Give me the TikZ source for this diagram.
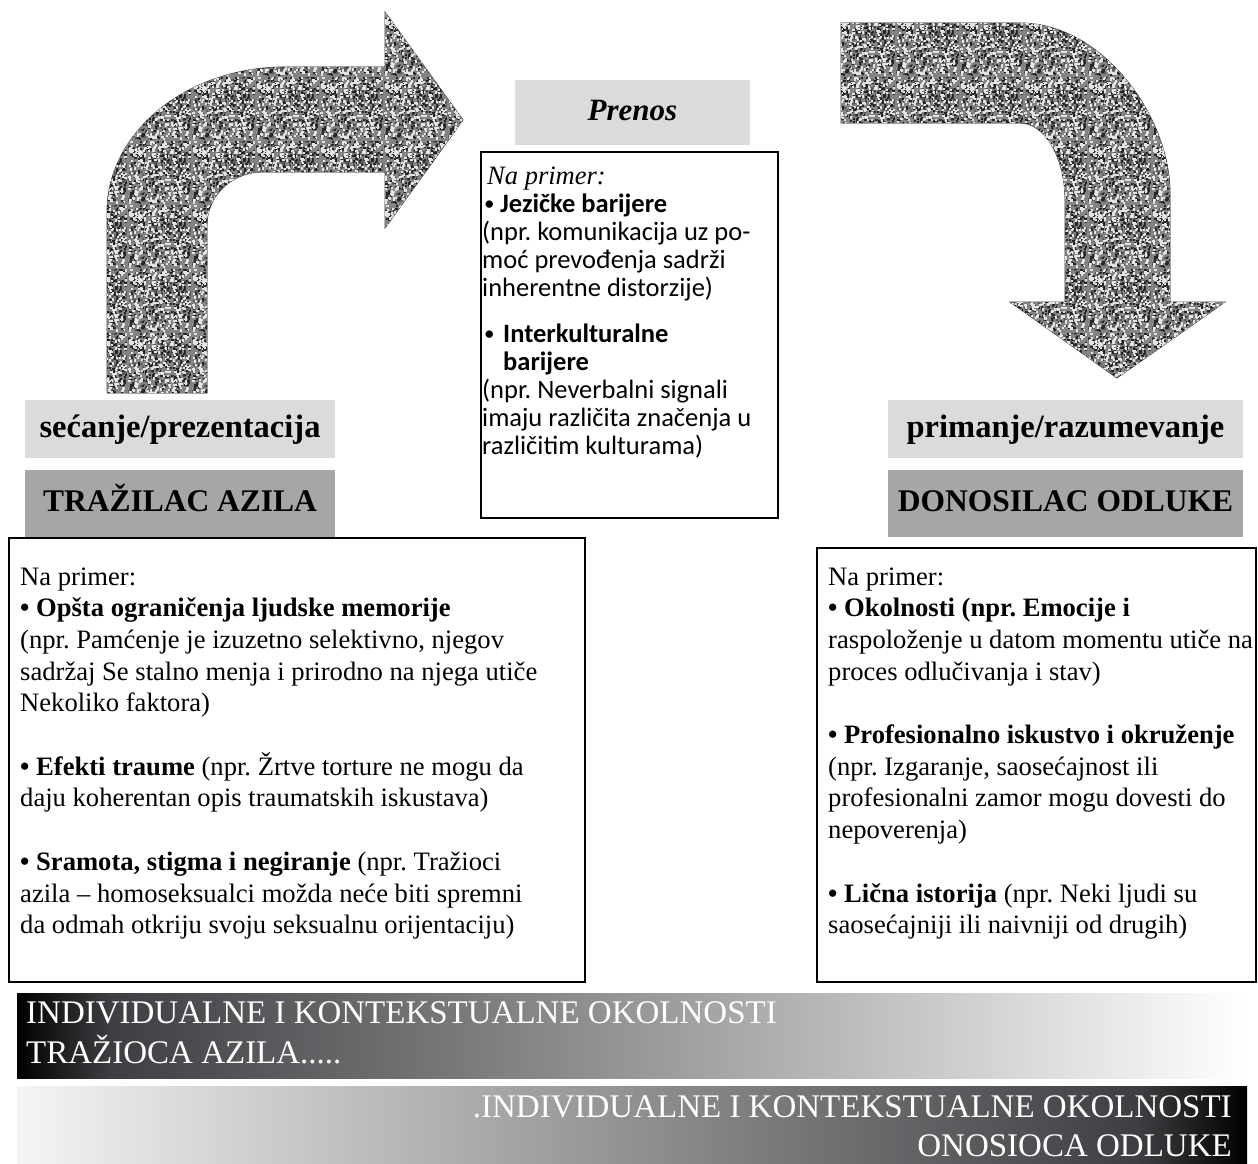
\documentclass[tikz,border=0pt]{standalone}
\usepackage{fontspec}
\setmainfont{Liberation Serif}
\newfontfamily\calibrisans{Carlito}
\usetikzlibrary{patterns}
\frenchspacing

\definecolor{taglight}{RGB}{219,219,221}
\definecolor{tagdark}{RGB}{166,166,168}
\definecolor{grainbase}{RGB}{132,132,132}
\definecolor{graindark}{RGB}{38,38,38}
\definecolor{grainmid}{RGB}{90,90,90}
\definecolor{grainlight}{RGB}{228,228,228}
\definecolor{barmidA}{RGB}{62,62,66}

% speckled stone-like fill tile for the bent arrows
\pgfmathsetseed{4711}
\newcommand\grainlayer[3]{% colour, count, size
  \pgfsetfillcolor{#1}%
  \foreach \k in {1,...,#2} {%
    \pgfmathsetmacro\gx{(64-#3)*rnd}\pgfmathsetmacro\gy{(64-#3)*rnd}%
    \pgfpathrectangle{\pgfpoint{\gx pt}{\gy pt}}{\pgfpoint{#3pt}{#3pt}}%
    \pgfusepath{fill}%
  }%
}
\pgfdeclarepatterninherentlycolored{grainnoise}
  {\pgfpoint{-1pt}{-1pt}}{\pgfpoint{65pt}{65pt}}{\pgfpoint{64pt}{64pt}}
  {%
    \pgfsetfillcolor{grainbase}%
    \pgfpathrectangle{\pgfpoint{-1pt}{-1pt}}{\pgfpoint{66pt}{66pt}}%
    \pgfusepath{fill}%
    \grainlayer{grainmid}{160}{2.2}%
    \grainlayer{graindark}{240}{2.2}%
    \grainlayer{grainlight}{300}{2.2}%
    \grainlayer{graindark}{60}{1.4}%
  }

\tikzset{
  body/.style={anchor=base west, inner sep=0pt, font=\fontsize{26.6}{32}\selectfont},
  bodysans/.style={anchor=base west, inner sep=0pt, font=\calibrisans\fontsize{26.5}{29}\selectfont},
  sansdot/.style={anchor=base west, inner sep=0pt, font=\calibrisans\fontsize{21}{29}\selectfont},
  panel/.style={draw=black, line width=2.6pt},
  tag/.style={inner sep=0pt, font=\bfseries\fontsize{32.5}{36}\selectfont, text height=23pt, text depth=7pt},
  captag/.style={tag, font=\bfseries\fontsize{31.5}{34}\selectfont},
  bartext/.style={inner sep=0pt, text=white, font=\fontsize{33}{36}\selectfont},
  grainfill/.style={fill=grainbase, postaction={pattern=grainnoise}},
  grainedge/.style={draw=black!80, line width=0.8pt},
}

\begin{document}
\begin{tikzpicture}[x=1pt,y=-1pt]
\useasboundingbox (0,0) rectangle (1258,1164);

% ---- curved arrow turning right (upper left)
\path[grainfill, grainedge] (107,393) -- (107,212) .. controls (107,132) and (187,67) .. (285,67)
        -- (385,67) -- (385,12) -- (463,120) -- (385,228) -- (385,172) -- (262,172)
        .. controls (232,172) and (207,196) .. (207,225) -- (207,393) -- cycle;

% ---- curved arrow turning down (upper right)
\path[grainfill, grainedge] (841,23) -- (1020,23) .. controls (1103,23) and (1170,117) .. (1170,193)
        -- (1170,302) -- (1225,302) -- (1117,378) -- (1010,302) -- (1065,302)
        -- (1065,200) .. controls (1065,158) and (1045,123) .. (1020,123) -- (841,123) -- cycle;

% ---- headings
\node[inner sep=0pt, fill=taglight, minimum width=235pt, minimum height=65pt,
      font=\bfseries\itshape\fontsize{31}{34}\selectfont, text height=22pt, text depth=6pt]
      (prenos) at (632.5,112.5) {Prenos};
\node[tag, fill=taglight, minimum width=310pt, minimum height=58pt] (recall) at (180,429) {sećanje/prezentacija};
\node[captag, fill=tagdark, minimum width=310pt, minimum height=67pt] (seeker) at (180,503.5) {TRAŽILAC AZILA};
\node[tag, fill=taglight, minimum width=355pt, minimum height=58pt] (receive) at (1065.5,429) {primanje/razumevanje};
\node[captag, fill=tagdark, minimum width=355pt, minimum height=67pt] (decider) at (1065.5,503.5) {DONOSILAC ODLUKE};

% ---- middle panel: transmission
\draw[panel, line width=2pt] (481,152) rectangle (778,518);
\node[body, font=\itshape\fontsize{26.5}{30}\selectfont] (m0) at (487,184) {Na primer:};
\node[sansdot] (m1b) at (484,210) {•};
\node[bodysans] (m1) at (500,212) {\textbf{Jezičke barijere}};
\node[bodysans] (m2) at (482,240) {(npr. komunikacija uz po-};
\node[bodysans] (m3) at (482,268) {moć prevođenja sadrži};
\node[bodysans] (m4) at (482,296) {inherentne distorzije)};
\node[sansdot] (m5b) at (484,340) {•};
\node[bodysans] (m5) at (503,342) {\textbf{Interkulturalne}};
\node[bodysans] (m6) at (503,370) {\textbf{barijere}};
\node[bodysans] (m7) at (482,398) {(npr. Neverbalni signali};
\node[bodysans] (m8) at (482,426) {imaju različita značenja u};
\node[bodysans] (m9) at (482,454) {različitim kulturama)};

% ---- left panel: asylum seeker
\draw[panel] (9,538) rectangle (585,982);
\node[body] (a0)  at (20,585.0) {Na primer:};
\node[body] (a1)  at (20,616.7) {\textbf{• Opšta ograničenja ljudske memorije}};
\node[body] (a2)  at (20,648.4) {(npr. Pamćenje je izuzetno selektivno, njegov};
\node[body] (a3)  at (20,680.1) {sadržaj Se stalno menja i prirodno na njega utiče};
\node[body] (a4)  at (20,711.8) {Nekoliko faktora)};
\node[body] (a6)  at (20,775.2) {\textbf{• Efekti traume} (npr. Žrtve torture ne mogu da};
\node[body] (a7)  at (20,806.9) {daju koherentan opis traumatskih iskustava)};
\node[body] (a9)  at (20,870.3) {\textbf{• Sramota, stigma i negiranje} (npr. Tražioci};
\node[body] (a10) at (20,902.0) {azila – homoseksualci možda neće biti spremni};
\node[body] (a11) at (20,933.7) {da odmah otkriju svoju seksualnu orijentaciju)};

% ---- right panel: decision maker
\draw[panel] (817,548) rectangle (1256,982);
\node[body] (d0)  at (828,585.0) {Na primer:};
\node[body] (d1)  at (828,616.7) {\textbf{• Okolnosti (npr. Emocije i}};
\node[body] (d2)  at (828,648.4) {raspoloženje u datom momentu utiče na};
\node[body] (d3)  at (828,680.1) {proces odlučivanja i stav)};
\node[body] (d5)  at (828,743.5) {\textbf{• Profesionalno iskustvo i okruženje}};
\node[body] (d6)  at (828,775.2) {(npr. Izgaranje, saosećajnost ili};
\node[body] (d7)  at (828,806.9) {profesionalni zamor mogu dovesti do};
\node[body] (d8)  at (828,838.6) {nepoverenja)};
\node[body] (d10) at (828,902.0) {\textbf{• Lična istorija} (npr. Neki ljudi su};
\node[body] (d11) at (828,933.7) {saosećajniji ili naivniji od drugih)};

% ---- gradient bands
\shade[left color=black, right color=barmidA] (17,993) rectangle (110,1078);
\shade[left color=barmidA, right color=white] (109.5,993) rectangle (1247,1078);
\shade[left color=white!96!black, right color=barmidA] (17,1086) rectangle (1140.5,1164);
\shade[left color=barmidA, right color=black] (1140,1086) rectangle (1247,1164);

\node[bartext, anchor=base west] (band1a) at (26,1023) {INDIVIDUALNE I KONTEKSTUALNE OKOLNOSTI};
\node[bartext, anchor=base west] (band1b) at (26,1063) {TRAŽIOCA AZILA.....};
\node[bartext, anchor=base east] (band2a) at (1232,1117) {.INDIVIDUALNE I KONTEKSTUALNE OKOLNOSTI};
\node[bartext, anchor=base east] (band2b) at (1232,1156) {ONOSIOCA ODLUKE};
\end{tikzpicture}
\end{document}
